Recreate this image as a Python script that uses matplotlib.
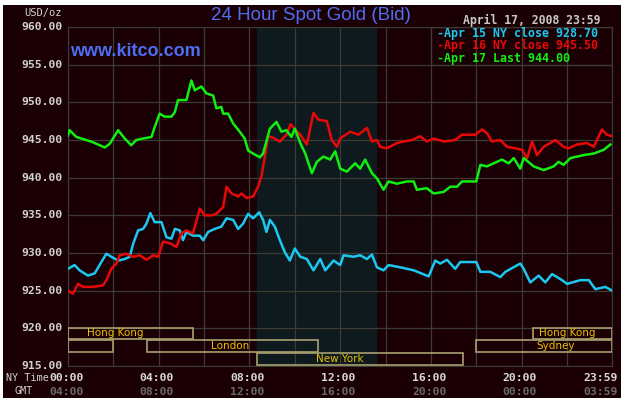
import matplotlib
matplotlib.use('Agg')
import matplotlib.pyplot as plt
from matplotlib.patches import Rectangle

# hours since midnight NY time, price in USD/oz
apr15_hours = [0.00, 0.29, 0.51, 0.88, 1.18, 1.47, 1.69, 1.91, 2.21, 2.50, 2.72, 2.87, 3.09, 3.31, 3.46,
               3.63, 3.82, 4.12, 4.34, 4.56, 4.71, 4.93, 5.07, 5.22, 5.51, 5.81, 5.96, 6.18, 6.47, 6.76,
               6.99, 7.28, 7.50, 7.72, 7.94, 8.16, 8.43, 8.60, 8.75, 8.90, 9.12, 9.34, 9.56, 9.78, 10.00,
               10.24, 10.53, 10.82, 11.12, 11.34, 11.71, 12.00, 12.15, 12.59, 12.88, 13.18, 13.40, 13.62,
               13.91, 14.13, 14.65, 15.24, 15.90, 16.19, 16.41, 16.71, 17.07, 17.29, 18.00, 18.18, 18.62,
               19.06, 19.28, 19.94, 20.09, 20.38, 20.75, 21.04, 21.34, 21.78, 22.00, 22.59, 22.96, 23.25,
               23.69, 23.99]
apr15_price = [927.9, 928.4, 927.7, 927.0, 927.3, 928.8, 929.9, 929.5, 929.0, 929.2, 929.5, 931.2, 933.0,
               933.2, 933.9, 935.3, 934.1, 934.1, 932.1, 931.9, 933.2, 933.0, 931.7, 932.8, 932.3, 932.3,
               931.7, 932.8, 933.2, 933.5, 934.6, 934.4, 933.2, 933.9, 935.2, 934.6, 935.4, 934.4, 932.8,
               934.4, 933.5, 931.7, 930.1, 929.0, 930.6, 929.5, 929.2, 927.7, 929.2, 927.7, 929.0, 928.4,
               929.7, 929.5, 929.7, 929.2, 929.8, 928.1, 927.7, 928.4, 928.1, 927.7, 926.9, 929.0, 928.6,
               929.1, 927.9, 928.8, 928.8, 927.5, 927.5, 926.8, 927.5, 928.6, 927.9, 926.1, 927.0, 926.1,
               927.2, 926.4, 925.9, 926.4, 926.4, 925.2, 925.5, 925.0]

apr16_hours = [0.00, 0.22, 0.44, 0.66, 1.10, 1.54, 1.69, 1.91, 2.13, 2.28, 2.57, 2.87, 3.16, 3.46, 3.75,
               3.97, 4.19, 4.49, 4.78, 5.00, 5.22, 5.51, 5.81, 6.03, 6.32, 6.54, 6.84, 6.99, 7.21, 7.50,
               7.65, 7.87, 8.16, 8.38, 8.53, 8.68, 8.82, 9.04, 9.34, 9.63, 9.81, 10.07, 10.24, 10.53,
               10.82, 11.04, 11.41, 11.63, 11.85, 12.00, 12.44, 12.81, 13.18, 13.40, 13.62, 13.76, 14.06,
               14.50, 14.79, 15.16, 15.53, 15.82, 16.12, 16.56, 17.07, 17.37, 17.96, 18.25, 18.47, 18.69,
               19.06, 19.35, 19.72, 20.01, 20.24, 20.46, 20.68, 20.97, 21.49, 21.85, 22.07, 22.44, 22.88,
               23.18, 23.54, 23.76, 23.99]
apr16_price = [925.0, 924.6, 925.9, 925.5, 925.5, 925.7, 926.4, 927.9, 928.6, 929.7, 929.9, 929.5, 929.7,
               929.1, 929.7, 929.5, 931.5, 931.3, 930.8, 932.6, 933.0, 932.6, 935.9, 935.0, 935.0, 935.2,
               936.1, 938.8, 937.9, 937.5, 937.9, 937.3, 937.5, 938.8, 940.2, 942.8, 945.5, 945.3, 944.8,
               945.7, 947.1, 946.2, 945.7, 944.4, 948.6, 947.7, 947.5, 945.0, 944.1, 945.2, 946.1, 945.7,
               946.6, 944.8, 945.0, 944.1, 943.9, 944.6, 944.8, 945.0, 945.5, 944.8, 945.2, 944.8, 945.0,
               945.7, 945.7, 946.4, 945.9, 944.8, 945.0, 944.1, 943.9, 943.7, 942.6, 944.8, 943.0, 944.1,
               945.0, 944.1, 943.9, 944.4, 944.6, 944.1, 946.4, 945.7, 945.5]

apr17_hours = [0.00, 0.07, 0.37, 0.81, 1.10, 1.40, 1.62, 1.84, 2.21, 2.50, 2.79, 3.01, 3.31, 3.68, 3.82,
               4.04, 4.26, 4.56, 4.71, 4.85, 5.22, 5.44, 5.59, 5.88, 6.10, 6.40, 6.54, 6.76, 6.84, 7.06,
               7.28, 7.57, 7.79, 7.94, 8.16, 8.46, 8.60, 8.90, 9.19, 9.41, 9.63, 9.85, 10.00, 10.24,
               10.46, 10.75, 10.97, 11.26, 11.56, 11.78, 12.00, 12.29, 12.66, 12.88, 13.10, 13.40, 13.62,
               13.91, 14.13, 14.50, 14.94, 15.24, 15.38, 15.82, 16.12, 16.56, 16.85, 17.15, 17.37, 18.00,
               18.18, 18.47, 18.76, 19.13, 19.43, 19.65, 19.94, 20.09, 20.53, 20.97, 21.41, 21.63, 21.85,
               22.15, 22.74, 23.18, 23.62, 23.91]
apr17_price = [945.6, 946.3, 945.4, 945.0, 944.7, 944.3, 944.0, 944.5, 946.3, 945.2, 944.3, 945.0, 945.2,
               945.4, 946.7, 948.5, 948.1, 948.1, 948.7, 950.3, 950.3, 952.9, 951.6, 952.1, 951.2, 950.9,
               949.2, 949.4, 948.5, 948.5, 947.2, 946.1, 945.2, 943.6, 943.2, 942.7, 943.2, 946.5, 947.4,
               946.1, 946.3, 945.4, 946.5, 944.6, 943.2, 940.6, 942.1, 942.8, 942.4, 943.5, 941.2, 940.8,
               941.9, 941.2, 942.4, 940.6, 939.9, 938.4, 939.5, 939.2, 939.5, 939.5, 938.4, 938.6, 937.9,
               938.1, 938.8, 938.8, 939.5, 939.5, 941.7, 941.5, 941.9, 942.4, 941.9, 942.6, 941.2, 942.6,
               941.5, 941.0, 941.5, 942.1, 941.7, 942.6, 943.0, 943.2, 943.7, 944.4]

legend_labels = ['Apr 15 NY close 928.70', 'Apr 16 NY close 945.50', 'Apr 17 Last 944.00']
line_colors = ['#1cc8f0', '#e80808', '#10f010']

ny_ticks = [0, 4, 8, 12, 16, 20, 23.983]
ny_labels = ['00:00', '04:00', '08:00', '12:00', '16:00', '20:00', '23:59']
gmt_labels = ['04:00', '08:00', '12:00', '16:00', '20:00', '00:00', '03:59']
price_ticks = [915, 920, 925, 930, 935, 940, 945, 950, 955, 960]

# market sessions: (name, start hour, end hour, row, label hour)
sessions = [('Hong Kong', 0, 5.5, 0, 2.1), ('', 0, 2.0, 1, 1.0), ('London', 3.5, 11.0, 1, 7.15),
            ('New York', 8.33, 17.4, 2, 12.0), ('Sydney', 18.0, 23.983, 1, 21.5),
            ('Hong Kong', 20.5, 23.983, 0, 22.0)]
comex_open, comex_close = 8.33, 13.6

bg = '#1a0004'
mono = 'DejaVu Sans Mono'

fig = plt.figure(figsize=(6.25, 4.04), dpi=100, facecolor='white')
fig.patches.append(Rectangle((3 / 625, 1 - 398 / 404), 618 / 625, 393 / 404,
                             transform=fig.transFigure, facecolor=bg, edgecolor='none', zorder=-10))

ax = fig.add_axes([68 / 625, 1 - 366 / 404, 544 / 625, 339 / 404])
ax.set_zorder(1)
ax.set_facecolor(bg)
ax.set_xlim(0, 23.983)
ax.set_ylim(915, 960)

ax.axvspan(comex_open, comex_close, color='#0f1a1f', zorder=0)

for h in range(0, 25, 2):
    ax.axvline(min(h, 23.983), color='#3c3c34', lw=0.9, zorder=1)
for p in price_ticks:
    ax.axhline(p, color='#3c3c34', lw=0.9, zorder=1)

for hrs, prc, c in zip([apr15_hours, apr16_hours, apr17_hours],
                       [apr15_price, apr16_price, apr17_price], line_colors):
    ax.plot(hrs, prc, color=c, lw=1.8, zorder=3)

# session boxes along the bottom
row_bands = [(918.55, 920.0), (916.85, 918.4), (915.1, 916.7)]
for name, start, end, row, lab_x in sessions:
    lo, hi = row_bands[row]
    ax.add_patch(Rectangle((start, lo), end - start, hi - lo, facecolor='none',
                           edgecolor='#a8a070', lw=1.2, zorder=4))
    if name:
        ax.text(lab_x, (lo + hi) / 2 + 0.05, name, color='#e8c000', fontsize=7.5,
                ha='center', va='center', family='DejaVu Sans', zorder=5)

# legend box
ax.add_patch(Rectangle((16.0, 955.0), 7.983, 5.0, facecolor='none', edgecolor='#3c3c34',
                       lw=0.9, zorder=4))
for i, (lab, c) in enumerate(zip(legend_labels, line_colors)):
    ax.text(16.28, 959.2 - i * 1.66, '-' + lab, color=c, fontsize=8.4, family=mono,
            fontweight='bold', va='center', ha='left', zorder=5)

for s in ax.spines.values():
    s.set_color('#3c3c34')

ax.set_xticks([])
ax.set_yticks([])
for p in price_ticks:
    ax.text(-0.22, p, '%.2f' % p, color='#d0d0d0', fontsize=8.2, family=mono,
            fontweight='bold', ha='right', va='center', clip_on=False)

for t, ny, gmt in zip(ny_ticks, ny_labels, gmt_labels):
    ha = 'right' if t > 23 else 'center'
    xt = t + 0.25 if t > 23 else t - 0.08
    ax.text(xt, 913.4, ny, color='#d8d8d8', fontsize=8.2, family=mono, fontweight='bold',
            ha=ha, va='center', clip_on=False)
    ax.text(xt, 911.5, gmt, color='#6a6a6a', fontsize=8.2, family=mono, fontweight='bold',
            ha=ha, va='center', clip_on=False)

fig.text(27 / 625, 1 - 378 / 404, 'NY Time', color='#d0d0d0', fontsize=7.3, family=mono,
         ha='center', va='center')
fig.text(24 / 625, 1 - 391 / 404, 'GMT', color='#d0d0d0', fontsize=7.3, family=mono,
         ha='center', va='center')
fig.text(43 / 625, 1 - 13 / 404, 'USD/oz', color='#d0d0d0', fontsize=7.5, family=mono,
         ha='center', va='center')
fig.text(311 / 625, 1 - 16 / 404, '24 Hour Spot Gold (Bid)', color='#4d6ef0', fontsize=13.5,
         family='Liberation Sans', ha='center', va='center')
fig.text(70 / 625, 1 - 52 / 404, 'www.kitco.com', color='#4d6ef0', fontsize=13,
         family='Liberation Sans', fontweight='bold', ha='left', va='center', zorder=5)
fig.text(532 / 625, 1 - 20 / 404, 'April 17, 2008 23:59', color='#c8c8c8', fontsize=8.3,
         family=mono, fontweight='bold', ha='center', va='center')

fig.savefig('out.png', dpi=100, facecolor='white')
